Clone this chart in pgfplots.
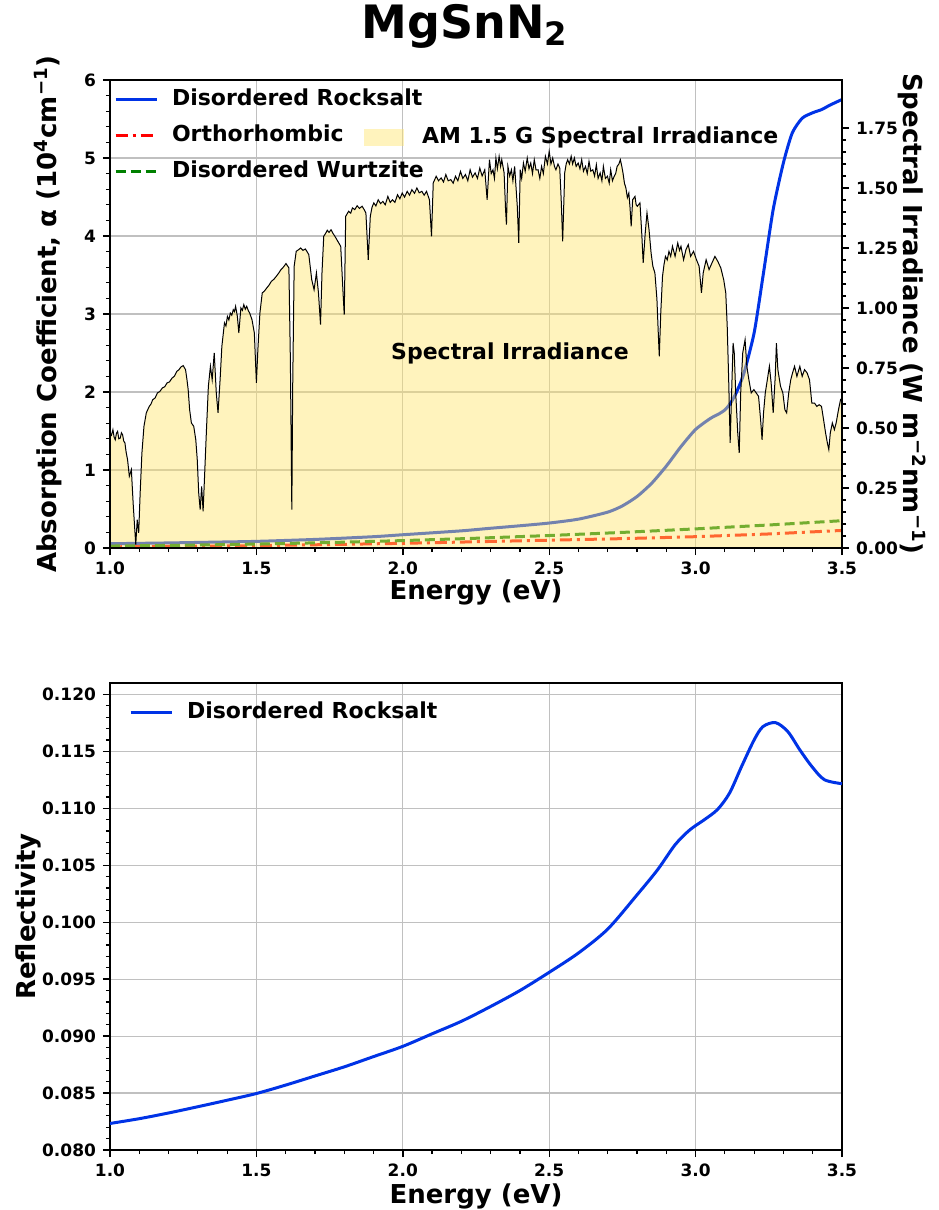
\documentclass[border=0pt]{standalone}
\usepackage{pgfplots}
\pgfplotsset{compat=1.18}
\usepackage{pgfplotstable}
\usepackage{fontspec}
\setmainfont{DejaVu Sans}
\definecolor{rsblue}{RGB}{0,51,230}
\definecolor{irrfill}{RGB}{255,228,108}
\definecolor{gridgray}{RGB}{192,192,192}
\definecolor{mplgreen}{RGB}{0,128,0}

\pgfplotstableread{
E I
1.000 0.479
1.005 0.470
1.010 0.493
1.014 0.462
1.018 0.451
1.022 0.478
1.026 0.486
1.030 0.455
1.035 0.458
1.039 0.480
1.043 0.472
1.047 0.445
1.051 0.438
1.055 0.400
1.060 0.368
1.066 0.299
1.073 0.326
1.079 0.188
1.084 0.090
1.088 0.014
1.093 0.118
1.098 0.063
1.103 0.229
1.109 0.396
1.116 0.507
1.124 0.563
1.134 0.590
1.140 0.600
1.146 0.618
1.154 0.625
1.162 0.646
1.170 0.652
1.179 0.667
1.187 0.672
1.195 0.688
1.203 0.692
1.212 0.708
1.220 0.716
1.228 0.736
1.235 0.742
1.242 0.754
1.250 0.760
1.258 0.743
1.263 0.700
1.267 0.660
1.272 0.576
1.278 0.521
1.286 0.507
1.293 0.451
1.298 0.368
1.303 0.229
1.308 0.160
1.313 0.257
1.318 0.153
1.323 0.299
1.329 0.479
1.336 0.674
1.343 0.757
1.349 0.701
1.356 0.813
1.363 0.646
1.369 0.563
1.376 0.701
1.382 0.840
1.391 0.938
1.396 0.925
1.401 0.965
1.406 0.950
1.411 0.979
1.416 0.970
1.421 0.993
1.425 0.985
1.429 1.007
1.435 0.965
1.440 0.896
1.447 1.000
1.452 0.990
1.457 1.014
1.462 0.995
1.467 1.007
1.472 0.990
1.477 0.979
1.485 0.951
1.493 0.896
1.500 0.688
1.505 0.826
1.512 0.979
1.520 1.063
1.527 1.070
1.535 1.083
1.543 1.095
1.551 1.111
1.560 1.120
1.568 1.132
1.576 1.145
1.584 1.160
1.592 1.170
1.601 1.185
1.611 1.167
1.616 0.785
1.621 0.160
1.624 0.674
1.629 1.174
1.636 1.236
1.643 1.242
1.651 1.250
1.659 1.240
1.667 1.246
1.673 1.235
1.679 1.222
1.689 1.118
1.697 1.076
1.705 1.146
1.712 1.063
1.719 0.931
1.724 1.146
1.730 1.299
1.736 1.310
1.742 1.324
1.748 1.315
1.755 1.326
1.762 1.310
1.768 1.299
1.778 1.278
1.788 1.257
1.796 1.063
1.800 0.972
1.805 1.382
1.815 1.403
1.822 1.395
1.828 1.417
1.836 1.410
1.844 1.426
1.852 1.415
1.861 1.424
1.868 1.410
1.874 1.396
1.882 1.201
1.889 1.382
1.895 1.420
1.901 1.438
1.908 1.425
1.916 1.451
1.924 1.435
1.932 1.444
1.940 1.430
1.949 1.465
1.957 1.440
1.965 1.451
1.973 1.440
1.982 1.472
1.990 1.455
1.998 1.479
2.006 1.462
2.015 1.486
2.023 1.470
2.031 1.493
2.040 1.478
2.048 1.500
2.056 1.480
2.065 1.486
2.073 1.470
2.081 1.486
2.091 1.451
2.098 1.299
2.104 1.521
2.114 1.549
2.122 1.530
2.131 1.542
2.139 1.525
2.147 1.556
2.155 1.530
2.164 1.535
2.172 1.520
2.180 1.549
2.188 1.530
2.197 1.569
2.205 1.540
2.214 1.556
2.222 1.530
2.230 1.576
2.238 1.545
2.247 1.563
2.255 1.540
2.263 1.583
2.271 1.550
2.280 1.576
2.288 1.451
2.296 1.618
2.302 1.560
2.308 1.576
2.313 1.540
2.318 1.625
2.323 1.580
2.329 1.632
2.334 1.590
2.338 1.618
2.346 1.563
2.351 1.410
2.354 1.347
2.359 1.590
2.365 1.550
2.371 1.576
2.376 1.530
2.382 1.590
2.391 1.424
2.396 1.271
2.401 1.576
2.406 1.540
2.412 1.604
2.418 1.570
2.425 1.625
2.431 1.580
2.437 1.604
2.443 1.560
2.449 1.618
2.455 1.575
2.462 1.576
2.468 1.540
2.474 1.590
2.480 1.560
2.487 1.632
2.494 1.600
2.500 1.653
2.506 1.600
2.512 1.625
2.518 1.590
2.523 1.576
2.530 1.600
2.536 1.583
2.541 1.451
2.546 1.278
2.553 1.563
2.558 1.600
2.563 1.618
2.569 1.600
2.575 1.632
2.580 1.600
2.586 1.625
2.592 1.590
2.599 1.604
2.605 1.580
2.611 1.618
2.617 1.570
2.624 1.590
2.630 1.560
2.636 1.611
2.642 1.570
2.649 1.576
2.655 1.550
2.661 1.597
2.667 1.540
2.674 1.563
2.680 1.530
2.685 1.590
2.692 1.540
2.699 1.549
2.705 1.520
2.710 1.576
2.716 1.530
2.722 1.549
2.727 1.560
2.732 1.590
2.738 1.600
2.743 1.618
2.748 1.590
2.752 1.563
2.757 1.520
2.762 1.500
2.767 1.460
2.772 1.479
2.776 1.420
2.780 1.340
2.785 1.451
2.793 1.465
2.797 1.430
2.801 1.424
2.810 1.438
2.816 1.313
2.821 1.188
2.828 1.313
2.834 1.396
2.841 1.326
2.848 1.229
2.854 1.174
2.861 1.146
2.868 1.035
2.873 0.882
2.876 0.799
2.881 0.979
2.887 1.132
2.892 1.180
2.897 1.215
2.903 1.200
2.909 1.236
2.915 1.215
2.921 1.257
2.930 1.215
2.939 1.271
2.945 1.240
2.950 1.257
2.959 1.201
2.967 1.243
2.975 1.264
2.983 1.215
2.993 1.236
3.003 1.201
3.012 1.174
3.020 1.063
3.026 1.146
3.036 1.201
3.046 1.160
3.056 1.188
3.066 1.215
3.076 1.194
3.086 1.167
3.096 1.118
3.103 1.063
3.108 0.924
3.113 0.701
3.118 0.438
3.123 0.646
3.128 0.854
3.132 0.813
3.137 0.646
3.144 0.479
3.149 0.396
3.154 0.646
3.161 0.813
3.169 0.868
3.175 0.757
3.182 0.701
3.190 0.646
3.199 0.660
3.207 0.646
3.215 0.632
3.222 0.535
3.227 0.451
3.232 0.563
3.238 0.646
3.245 0.701
3.252 0.757
3.258 0.688
3.265 0.563
3.272 0.715
3.276 0.854
3.281 0.743
3.290 0.674
3.298 0.646
3.305 0.576
3.311 0.563
3.318 0.646
3.325 0.701
3.331 0.729
3.338 0.757
3.346 0.715
3.356 0.757
3.364 0.715
3.372 0.743
3.381 0.729
3.389 0.701
3.397 0.604
3.406 0.604
3.414 0.590
3.422 0.597
3.430 0.590
3.437 0.535
3.444 0.479
3.450 0.438
3.455 0.410
3.460 0.479
3.467 0.521
3.474 0.493
3.480 0.521
3.488 0.576
3.495 0.618
3.500 0.611
}\irr

\pgfplotsset{
  myax/.style={
    scale only axis, width=366pt,
    xmin=1, xmax=3.5,
    tick align=outside,
    major tick length=3.5pt, minor tick length=2pt,
    major tick style={black, line width=0.7pt},
    minor tick style={black, line width=0.6pt},
    axis line style={line width=1.2pt},
    tick label style={font=\bfseries\fontsize{8.5}{10}\selectfont},
    /pgf/number format/assume math mode=true,
    label style={font=\bfseries\fontsize{13}{15}\selectfont},
    major grid style={gridgray, line width=0.6pt},
    legend style={draw=none, fill=none, font=\bfseries\fontsize{11}{13}\selectfont,
      inner sep=0pt, outer sep=0pt,
      nodes={inner sep=1pt, text height=8.5pt, text depth=2.5pt}},
    legend cell align=left,
    legend image code/.code={\draw[#1] (0pt,0pt) -- (20.5pt,0pt); \path (26.5pt,0pt);},
    xtick={1,1.5,2,2.5,3,3.5},
    x tick label style={/pgf/number format/fixed, /pgf/number format/fixed zerofill, /pgf/number format/precision=1},
  }
}

\begin{document}
\begin{tikzpicture}
\useasboundingbox (-55pt,-331pt) rectangle (414pt,274pt);

% ---------- top: absorption (left axis) ----------
\begin{axis}[myax, at={(0pt,0pt)}, anchor=south west, height=234pt,
  ymin=0, ymax=6, ytick={0,1,2,3,4,5,6}, minor y tick num=4, minor x tick num=4,
  xtick pos=left, ytick pos=left, grid=major,
  xlabel={Energy (eV)},
  ylabel={Absorption Coefficient, α (10\textsuperscript{4}cm\textsuperscript{−1})},
  xlabel style={at={(axis description cs:0.5,-0.096)}, anchor=center},
  ylabel style={at={(axis description cs:-0.0847,0.5)}, anchor=center},
  title={MgSnN\textsubscript{2}},
  title style={at={(axis description cs:0.485,1)}, anchor=center, yshift=21pt, font=\bfseries\fontsize{23}{26}\selectfont},
  legend style={at={(axis description cs:0.0055,0.986)}, anchor=north west, row sep=5pt},
]
\addplot[rsblue, line width=1.5pt, smooth, tension=0.4] coordinates {
(1.00,0.055) (1.20,0.065) (1.40,0.078) (1.50,0.085) (1.70,0.11) (1.90,0.145) (2.00,0.17)
(2.20,0.22) (2.29,0.25) (2.40,0.285) (2.50,0.32) (2.60,0.37) (2.70,0.46) (2.75,0.54)
(2.80,0.66) (2.85,0.83) (2.90,1.05) (2.95,1.30) (3.00,1.52) (3.05,1.66) (3.08,1.72)
(3.10,1.77) (3.12,1.86) (3.14,2.00) (3.165,2.24) (3.20,2.76) (3.23,3.48) (3.265,4.34)
(3.30,4.94) (3.33,5.32) (3.364,5.51) (3.40,5.58) (3.43,5.62) (3.46,5.68) (3.50,5.75)};
\addlegendentry{Disordered Rocksalt}
\addplot[red, line width=1.5pt, dash pattern=on 6pt off 2.5pt on 1.5pt off 2.5pt] coordinates {
(1.00,0.015) (1.25,0.022) (1.50,0.03) (1.75,0.044) (2.00,0.06) (2.25,0.08) (2.50,0.10)
(2.75,0.12) (3.00,0.145) (3.25,0.18) (3.50,0.225)};
\addlegendentry{Orthorhombic}
\addplot[mplgreen, line width=1.5pt, dash pattern=on 5pt off 2.5pt] coordinates {
(1.00,0.025) (1.25,0.035) (1.50,0.05) (1.75,0.07) (2.00,0.095) (2.25,0.125) (2.50,0.16)
(2.75,0.20) (3.00,0.245) (3.25,0.295) (3.50,0.35)};
\addlegendentry{Disordered Wurtzite}
\end{axis}

% ---------- top: spectral irradiance (right axis) ----------
\begin{axis}[myax, at={(0pt,0pt)}, anchor=south west, height=234pt,
  ymin=0, ymax=1.95, ytick={0,0.25,0.5,0.75,1,1.25,1.5,1.75}, minor y tick num=4,
  xtick=\empty, ytick pos=right, axis on top,
  y tick label style={/pgf/number format/fixed, /pgf/number format/fixed zerofill, /pgf/number format/precision=2},
  ylabel={Spectral Irradiance (W m\textsuperscript{−2}nm\textsuperscript{−1})},
  ylabel style={at={(axis description cs:1.0956,0.5)}, anchor=center, rotate=180},
  legend style={at={(axis description cs:0.347,0.877)}, anchor=west},
]
\addplot[draw=none, fill=irrfill, fill opacity=0.45,
  legend image code/.code={\fill[irrfill, fill opacity=0.45] (0pt,-4.25pt) rectangle (20pt,4.25pt); \path (28pt,0pt);}]
  table[x=E,y=I]{\irr} \closedcycle;
\addlegendentry{AM 1.5 G Spectral Irradiance}
\addplot[black, line width=0.5pt, forget plot] table[x=E,y=I]{\irr};
\node[font=\bfseries\fontsize{11}{13}\selectfont] at (axis cs:2.366,0.8125) {Spectral Irradiance};
\end{axis}

% ---------- bottom: reflectivity ----------
\begin{axis}[myax, at={(0pt,-301pt)}, anchor=south west, height=233.5pt,
  ymin=0.08, ymax=0.121,
  ytick={0.080,0.085,0.090,0.095,0.100,0.105,0.110,0.115,0.120}, minor y tick num=4,
  minor x tick num=4, scaled y ticks=false,
  y tick label style={/pgf/number format/fixed, /pgf/number format/fixed zerofill, /pgf/number format/precision=3},
  xtick pos=left, ytick pos=left, grid=major,
  xlabel={Energy (eV)}, ylabel={Reflectivity},
  xlabel style={at={(axis description cs:0.5,-0.0985)}, anchor=center},
  ylabel style={at={(axis description cs:-0.112,0.5)}, anchor=center},
  legend style={at={(axis description cs:0.026,0.936)}, anchor=west},
  legend image code/.code={\draw[#1] (0pt,0pt) -- (20.5pt,0pt); \path (26.5pt,0pt);},
]
\addplot[rsblue, line width=1.5pt, smooth, tension=0.5] coordinates {
(1.000,0.08233) (1.100,0.08275) (1.200,0.08325) (1.300,0.08380) (1.400,0.08437)
(1.500,0.08496) (1.600,0.08570) (1.700,0.08650) (1.800,0.08730) (1.900,0.08820)
(2.000,0.08910) (2.100,0.09020) (2.200,0.09130) (2.300,0.09260) (2.400,0.09400)
(2.500,0.09560) (2.600,0.09730) (2.700,0.09940) (2.800,0.10240) (2.870,0.10460)
(2.930,0.10680) (2.980,0.10810) (3.030,0.10900) (3.075,0.10990) (3.116,0.11134)
(3.157,0.11367) (3.200,0.11601) (3.230,0.11717) (3.273,0.11752) (3.315,0.11673)
(3.356,0.11513) (3.397,0.11367) (3.440,0.11251) (3.500,0.11216)};
\addlegendentry{Disordered Rocksalt}
\end{axis}
\end{tikzpicture}
\end{document}
